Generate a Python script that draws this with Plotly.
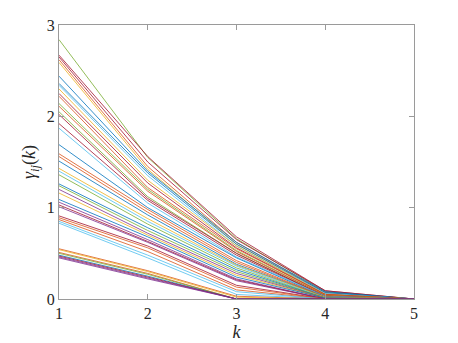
import plotly.graph_objects as go

# step index
k = [1, 2, 3, 4, 5]

# gamma_ij(k), one entry per (i, j) pair, per step k
gamma_k1 = [2.84, 2.67, 2.65, 2.62, 2.59, 2.44, 2.36, 2.34, 2.30, 2.25, 2.22, 2.14, 2.11, 2.05, 2.02,
            1.92, 1.87, 1.69, 1.59, 1.56, 1.51, 1.43, 1.40, 1.36, 1.26, 1.24, 1.20, 1.16, 1.09, 1.06,
            1.03, 1.01, 0.91, 0.89, 0.87, 0.85, 0.83, 0.55, 0.54, 0.51, 0.50, 0.48, 0.47, 0.46, 0.45]
gamma_k2 = [1.55, 1.56, 1.50, 1.45, 1.42, 1.40, 1.38, 1.35, 1.30, 1.27, 1.22, 1.20, 1.18, 1.12, 1.10,
            1.08, 1.05, 1.00, 0.98, 0.95, 0.92, 0.88, 0.85, 0.82, 0.78, 0.75, 0.72, 0.70, 0.68, 0.65,
            0.63, 0.62, 0.58, 0.56, 0.52, 0.48, 0.45, 0.31, 0.30, 0.28, 0.27, 0.25, 0.24, 0.23, 0.22]
gamma_k3 = [0.66, 0.68, 0.65, 0.62, 0.60, 0.62, 0.60, 0.58, 0.58, 0.56, 0.55, 0.53, 0.52, 0.50, 0.50,
            0.48, 0.46, 0.45, 0.42, 0.40, 0.38, 0.37, 0.36, 0.34, 0.32, 0.30, 0.28, 0.26, 0.24, 0.22,
            0.21, 0.20, 0.15, 0.13, 0.10, 0.08, 0.05, 0.03, 0.02, 0.00, 0.00, 0.00, 0.00, 0.00, 0.00]
gamma_k4 = [0.08, 0.09, 0.09, 0.07, 0.06, 0.08, 0.07, 0.06, 0.05, 0.05, 0.05, 0.04, 0.04, 0.03, 0.03,
            0.03, 0.03, 0.02, 0.02, 0.02, 0.02, 0.02, 0.01, 0.01, 0.01, 0.01, 0.01, 0.01, 0.01, 0.00,
            0.00, 0.00, 0.00, 0.00, 0.00, 0.00, 0.00, 0.00, 0.00, 0.00, 0.00, 0.00, 0.00, 0.00, 0.00]
gamma_k5 = [0.0] * len(gamma_k1)

# MATLAB default colour order: blue, orange, yellow, purple, green, light blue, dark red
colors = ["#0072BD", "#D95319", "#EDB120", "#7E2F8E", "#77AC30", "#4DBEEE", "#A2142F"]
# which colour each line carries, as seen in the picture
line_color_idx = [4, 6, 6, 1, 2, 0, 0, 5, 2, 6, 1, 4, 1, 4, 6,
                  6, 5, 0, 1, 1, 0, 2, 5, 4, 0, 4, 3, 2, 0, 3,
                  6, 3, 6, 1, 1, 5, 5, 1, 2, 1, 4, 0, 6, 3, 3]

fig = go.Figure()
for i, vals in enumerate(zip(gamma_k1, gamma_k2, gamma_k3, gamma_k4, gamma_k5)):
    fig.add_trace(go.Scatter(
        x=k, y=list(vals), mode="lines",
        line=dict(color=colors[line_color_idx[i]], width=0.8),
        showlegend=False, hoverinfo="skip",
    ))

serif = "Liberation Serif"
axis_style = dict(
    showline=True, linecolor="#9a9a9a", linewidth=1, mirror="ticks",
    ticks="inside", ticklen=5, tickcolor="#9a9a9a",
    showgrid=False, zeroline=False, automargin=False,
    tickfont=dict(family=serif, size=16, color="#262626"),
)

# the page body adds an 8px margin, so the figure is drawn 8px smaller each way
fig.update_layout(
    width=450, height=335,
    margin=dict(l=51, r=44, t=17, b=44),
    paper_bgcolor="white", plot_bgcolor="white",
    font=dict(family=serif, color="#262626"),
    xaxis=dict(range=[1, 5], tickvals=k, ticktext=[str(v) for v in k],
               title=dict(text="<i>k</i>", standoff=0,
                          font=dict(family=serif, size=18, color="#262626")),
               **axis_style),
    yaxis=dict(range=[0, 3], tickvals=[0, 1, 2, 3],
               title=dict(text="<i>γ</i><sub><i>ij</i></sub>(<i>k</i>)", standoff=6,
                          font=dict(family=serif, size=18, color="#262626")),
               **axis_style),
)

fig.write_html("out.html")
